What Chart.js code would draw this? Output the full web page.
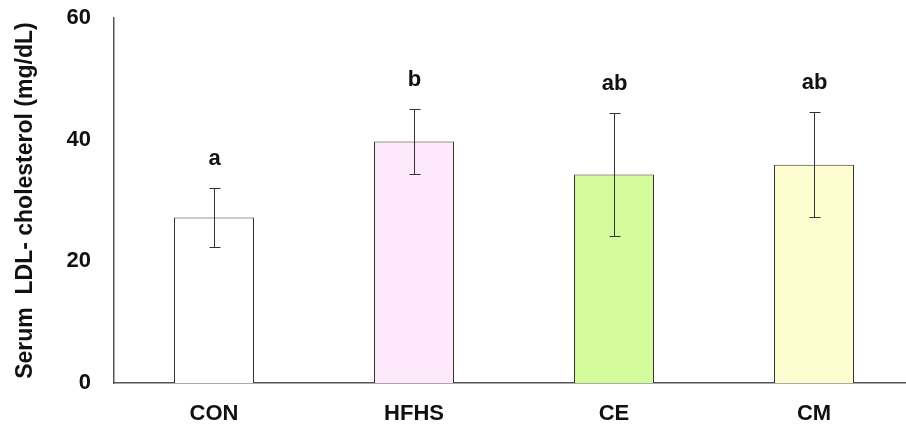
<!DOCTYPE html>
<html>
<head>
<meta charset="utf-8">
<script src="https://cdn.jsdelivr.net/npm/chart.js@4"></script>
<style>
  html, body { margin: 0; padding: 0; background: #fff; overflow: hidden; }
  #wrap { width: 914px; height: 439px; margin-top: -13px; }
</style>
</head>
<body>
<div id="wrap"><canvas id="chart" width="914" height="439"></canvas></div>
<script>
// data
const groups = ["CON", "HFHS", "CE", "CM"];
const means = [27.2, 39.7, 34.3, 35.9];
const errors = [4.9, 5.3, 10.1, 8.6];
const letters = ["a", "b", "ab", "ab"];
const yTicks = [0, 20, 40, 60];

const fills = ["#ffffff", "#fde8fc", "#d4fc9c", "#fdfdcf"];

// error bars + significance letters
const errorBars = {
  id: "errorBars",
  afterDatasetsDraw(chart) {
    const ctx = chart.ctx;
    const x = chart.scales.x;
    const y = chart.scales.y;
    ctx.save();
    ctx.strokeStyle = "#333";
    ctx.lineWidth = 1;
    means.forEach((m, i) => {
      const cx = Math.round(x.getPixelForValue(i)) + 0.5;
      const top = Math.round(y.getPixelForValue(m + errors[i])) + 0.5;
      const bot = Math.round(y.getPixelForValue(m - errors[i])) + 0.5;
      ctx.beginPath();
      ctx.moveTo(cx, top); ctx.lineTo(cx, bot);
      ctx.moveTo(cx - 5, top); ctx.lineTo(cx + 6, top);
      ctx.moveTo(cx - 5, bot); ctx.lineTo(cx + 6, bot);
      ctx.stroke();
      ctx.fillStyle = "#111";
      ctx.font = "bold 22px Arial, 'Liberation Sans'";
      ctx.textAlign = "center";
      ctx.textBaseline = "middle";
      ctx.fillText(letters[i], cx, top - 30);
    });
    ctx.restore();
  }
};

new Chart(document.getElementById("chart"), {
  type: "bar",
  data: {
    labels: groups,
    datasets: [{
      data: means,
      backgroundColor: fills,
      borderColor: "#333",
      borderWidth: 1,
      barPercentage: 0.4,
      categoryPercentage: 1.0
    }]
  },
  options: {
    responsive: false,
    animation: false,
    layout: { padding: { top: -25, right: 0, left: 0, bottom: 0 } },
    plugins: { legend: { display: false }, tooltip: { enabled: false } },
    scales: {
      x: {
        grid: { display: false, drawTicks: false },
        border: { color: "#555", width: 1.5 },
        ticks: {
          color: "#111",
          padding: 18,
          font: { family: "Arial, 'Liberation Sans'", size: 22, weight: "bold" }
        },
        afterFit: (s) => { s.height = 43; }
      },
      y: {
        min: 0,
        max: 60,
        afterBuildTicks: (s) => { s.ticks = yTicks.map((v) => ({ value: v })); },
        grid: { display: false, drawTicks: true, tickLength: 5, tickColor: "#555" },
        border: { color: "#555", width: 1.5 },
        ticks: {
          color: "#111",
          padding: 18,
          font: { family: "Arial, 'Liberation Sans'", size: 22, weight: "bold" }
        },
        title: {
          display: true,
          text: "Serum  LDL- cholesterol (mg/dL)",
          color: "#111",
          padding: { top: 12, bottom: 0 },
          font: { family: "Arial, 'Liberation Sans'", size: 23, weight: "bold" }
        },
        afterFit: (s) => { s.width = 114; }
      }
    }
  },
  plugins: [errorBars]
});
</script>
</body>
</html>
